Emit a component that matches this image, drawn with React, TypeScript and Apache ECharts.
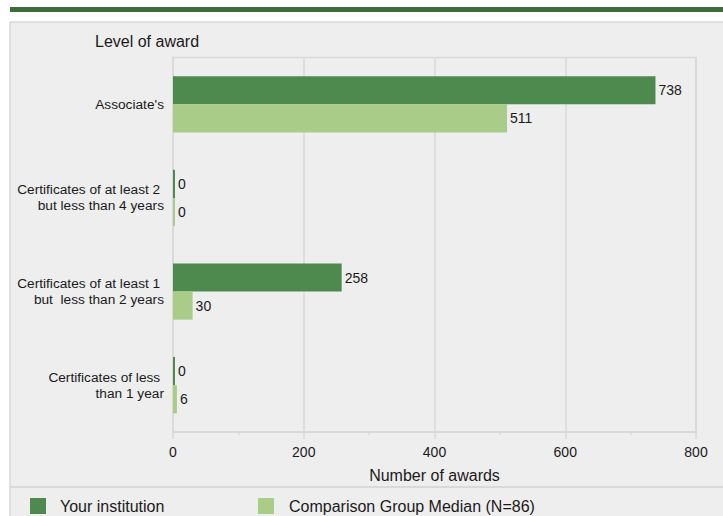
import React, { useEffect, useRef } from "react";
import * as echarts from "echarts";

const categories = [
  "Associate's",
  "Certificates of at least 2 \nbut less than 4 years",
  "Certificates of at least 1 \nbut  less than 2 years",
  "Certificates of less \nthan 1 year",
];
const yourInstitution = [738, 0, 258, 0];
const comparisonMedian = [511, 0, 30, 6];
const seriesNames = ["Your institution", "Comparison Group Median (N=86)"];
const xTicks = { min: 0, max: 800, interval: 200 };

const FONT = "'Liberation Sans', Arial, Helvetica, sans-serif";
const DARK = "#4e8a4e";
const LIGHT = "#a9cc88";
const GRID = "#d9d9d9";
const TXT = "#1a1a1a";

export default function App() {
  const ref = useRef<HTMLDivElement>(null);
  useEffect(() => {
    document.body.style.margin = "0";
    const chart = echarts.init(ref.current!, null, { renderer: "svg" });
    const labelCfg = {
      show: true,
      position: "right",
      distance: 3,
      fontSize: 14,
      fontFamily: FONT,
      color: TXT,
    };
    chart.setOption({
      animation: false,
      textStyle: { fontFamily: FONT },
      graphic: [
        {
          type: "rect",
          silent: true,
          z: -10,
          shape: { x: 10, y: 7, width: 720, height: 5 },
          style: { fill: "#3f6a3a" },
        },
        {
          type: "rect",
          silent: true,
          z: -10,
          shape: { x: 10, y: 22, width: 720, height: 500 },
          style: { fill: "#eeeeee", stroke: GRID, lineWidth: 1.5 },
        },
        {
          type: "line",
          silent: true,
          z: -9,
          shape: { x1: 10, y1: 487, x2: 723, y2: 487 },
          style: { stroke: GRID, lineWidth: 2 },
        },
      ],
      title: {
        text: "Level of award",
        left: 95,
        top: 33,
        padding: 0,
        textStyle: { fontSize: 16, fontWeight: "normal", color: TXT, fontFamily: FONT },
      },
      legend: [
        {
          data: [seriesNames[0]],
          left: 30,
          top: 498,
          padding: 0,
          itemWidth: 16,
          itemHeight: 16,
          icon: "rect",
          textStyle: { fontSize: 16, color: TXT, fontFamily: FONT, padding: [0, 0, 0, 9] },
        },
        {
          data: [seriesNames[1]],
          left: 258,
          top: 498,
          padding: 0,
          itemWidth: 16,
          itemHeight: 16,
          icon: "rect",
          textStyle: { fontSize: 16, color: TXT, fontFamily: FONT, padding: [0, 0, 0, 10] },
        },
      ],
      grid: {
        left: 173,
        right: 27,
        top: 57.5,
        bottom: 84,
        show: true,
        borderColor: GRID,
        borderWidth: 1.5,
        backgroundColor: "transparent",
        containLabel: false,
      },
      xAxis: {
        type: "value",
        min: xTicks.min,
        max: xTicks.max,
        interval: xTicks.interval,
        name: "Number of awards",
        nameLocation: "middle",
        nameGap: 35,
        nameTextStyle: { fontSize: 16, color: TXT, fontFamily: FONT },
        axisLine: { show: true, lineStyle: { color: GRID, width: 2 } },
        axisTick: { show: true, length: 7, lineStyle: { color: GRID, width: 1.5 } },
        minorTick: { show: true, splitNumber: 2, length: 3, lineStyle: { color: GRID, width: 1.5 } },
        splitLine: { show: true, lineStyle: { color: GRID, width: 1.5 } },
        axisLabel: { fontSize: 14, color: TXT, margin: 13, fontFamily: FONT },
      },
      yAxis: {
        type: "category",
        inverse: true,
        data: categories,
        axisLine: { show: false },
        axisTick: { show: false },
        splitLine: { show: false },
        axisLabel: {
          fontSize: 13.7,
          color: TXT,
          margin: 9,
          lineHeight: 16,
          align: "right",
          fontFamily: FONT,
        },
      },
      series: [
        {
          name: seriesNames[0],
          type: "bar",
          data: yourInstitution,
          barGap: "0%",
          barCategoryGap: "40%",
          barMinHeight: 2,
          itemStyle: { color: DARK },
          label: labelCfg,
        },
        {
          name: seriesNames[1],
          type: "bar",
          data: comparisonMedian,
          barGap: "0%",
          barCategoryGap: "40%",
          barMinHeight: 2,
          itemStyle: { color: LIGHT },
          label: labelCfg,
        },
      ],
    });
    return () => chart.dispose();
  }, []);
  return <div ref={ref} style={{ width: 723, height: 516 }} />;
}
